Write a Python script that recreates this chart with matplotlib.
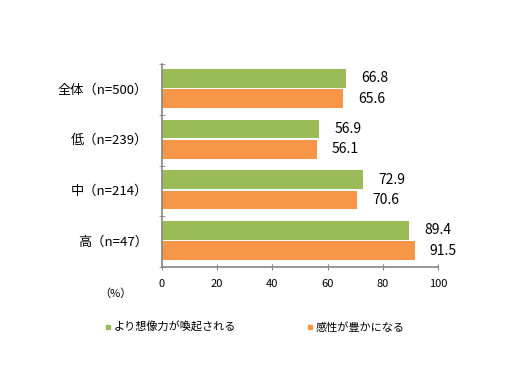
import matplotlib
matplotlib.use("Agg")
import matplotlib.pyplot as plt
import numpy as np
from matplotlib.lines import Line2D

plt.rcParams['font.family'] = ['Noto Sans CJK JP', 'DejaVu Sans']

categories = ["全体（n=500）", "低（n=239）", "中（n=214）", "高（n=47）"]
series_names = ["より想像力が喚起される", "感性が豊かになる"]
green_vals = [66.8, 56.9, 72.9, 89.4]
orange_vals = [65.6, 56.1, 70.6, 91.5]
xticks = [0, 20, 40, 60, 80, 100]

green = "#9BBB59"
orange = "#F79646"
axis_col = "#868686"

fig = plt.figure(figsize=(5.12, 3.84), dpi=100)
ax = fig.add_axes([162/512, 1-267/384, (438-162)/512, (267-64)/384])

n = len(categories)
centers = np.arange(n) + 0.48
h = 0.37
ax.barh(centers - 0.2, green_vals, height=h, color=green, label=series_names[0])
ax.barh(centers + 0.2, orange_vals, height=h, color=orange, label=series_names[1])

for c, v in zip(centers - 0.2, green_vals):
    ax.text(v + 5.5, c, f"{v:.1f}", va="center", ha="left", fontsize=10, color="black")
for c, v in zip(centers + 0.2, orange_vals):
    ax.text(v + 5.5, c, f"{v:.1f}", va="center", ha="left", fontsize=10, color="black")

ax.set_xlim(0, 100)
ax.set_ylim(n, 0)
ax.set_xticks(xticks)
ax.set_xticklabels([str(t) for t in xticks], fontsize=8)
ax.tick_params(axis="x", direction="inout", length=5, color=axis_col, pad=6)

ax.set_yticks(centers)
ax.set_yticklabels(categories, fontsize=9.5)
ax.tick_params(axis="y", which="major", length=0, pad=10)
ax.set_yticks(np.arange(n + 1), minor=True)
ax.tick_params(axis="y", which="minor", direction="inout", length=5, color=axis_col)

for s in ["top", "right"]:
    ax.spines[s].set_visible(False)
for s in ["left", "bottom"]:
    ax.spines[s].set_color(axis_col)
    ax.spines[s].set_linewidth(1.2)

fig.text(99/512, 1-294/384, "（%）", fontsize=8, va="center", ha="left")

handles = [Line2D([], [], marker="s", linestyle="none", color=green, markersize=3),
           Line2D([], [], marker="s", linestyle="none", color=orange, markersize=3)]
fig.legend(handles, series_names, loc="center left", bbox_to_anchor=(105/512, 1-327/384),
           ncol=2, frameon=False, fontsize=8, handletextpad=0.2, columnspacing=6.3,
           handlelength=0.6, borderaxespad=0, borderpad=0)

fig.savefig("out.png", dpi=100)
